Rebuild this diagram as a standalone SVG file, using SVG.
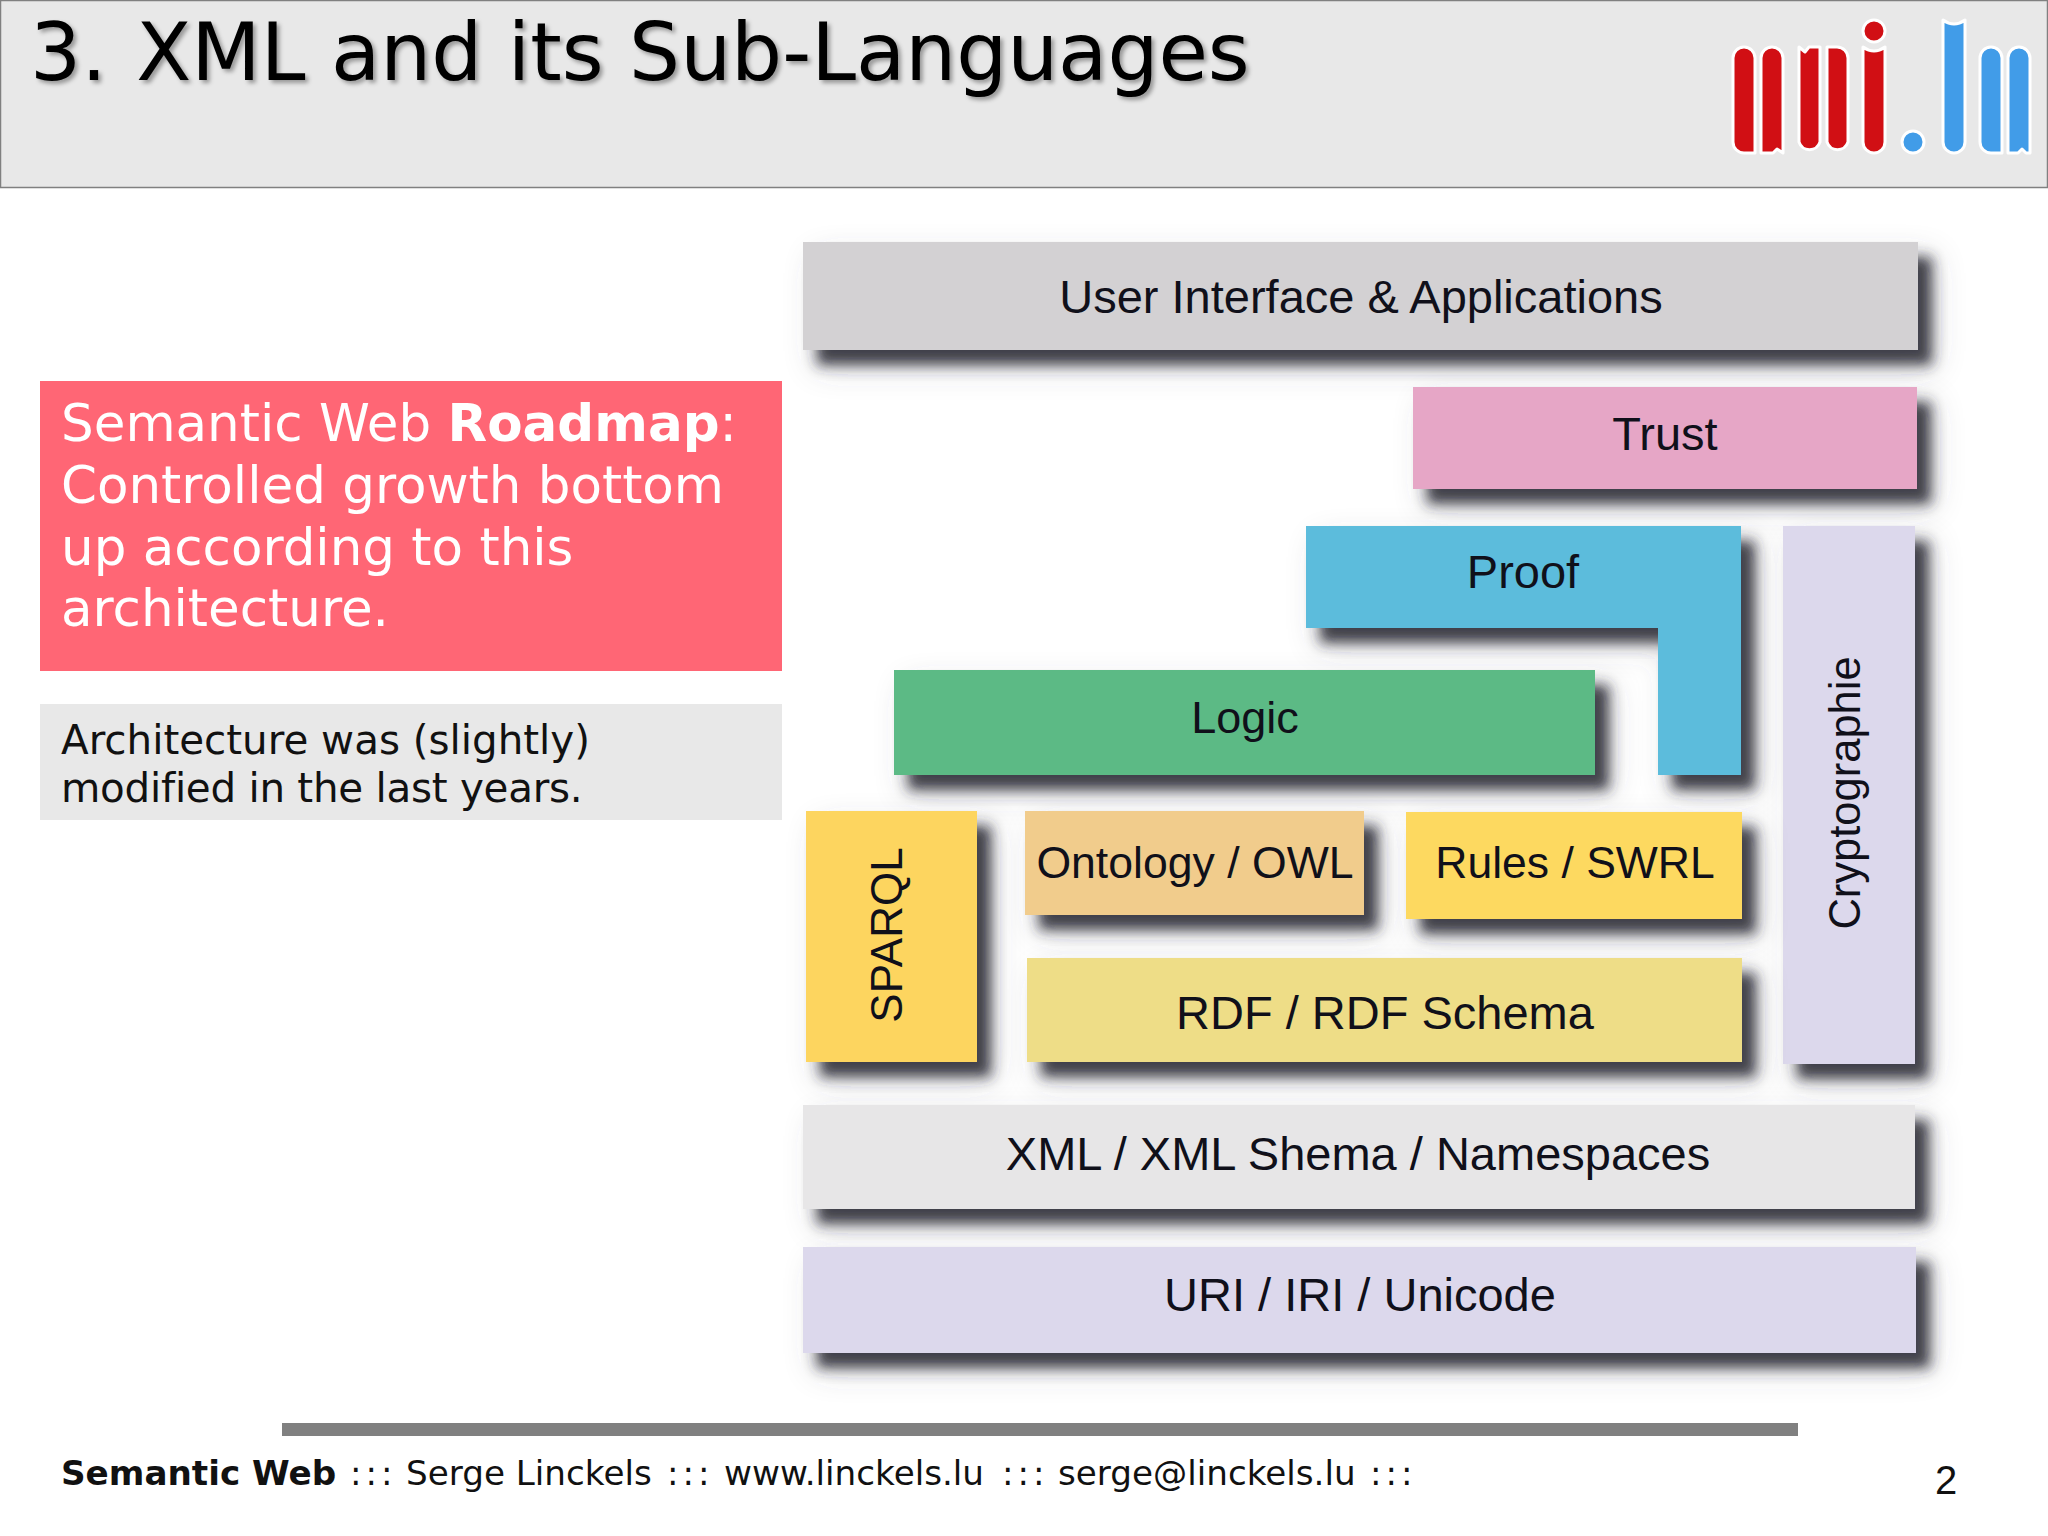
<svg xmlns="http://www.w3.org/2000/svg" width="2048" height="1536" viewBox="0 0 2048 1536">
<defs>
<filter id="ds" filterUnits="userSpaceOnUse" x="700" y="150" width="1348" height="1350">
<feGaussianBlur in="SourceAlpha" stdDeviation="6.5" result="a"/>
<feOffset in="a" dx="14" dy="15" result="b"/>
<feFlood flood-color="#2f2f38" flood-opacity="0.88"/><feComposite in2="b" operator="in" result="sh"/>
<feGaussianBlur in="SourceAlpha" stdDeviation="16" result="c"/>
<feOffset in="c" dx="14" dy="16" result="d"/>
<feFlood flood-color="#50505a" flood-opacity="0.25"/><feComposite in2="d" operator="in" result="halo"/>
<feMerge><feMergeNode in="halo"/><feMergeNode in="sh"/><feMergeNode in="SourceGraphic"/></feMerge>
</filter>
<filter id="ts" x="-2%" y="-10%" width="104%" height="130%"><feDropShadow dx="3" dy="3" stdDeviation="2" flood-color="#000" flood-opacity="0.35"/></filter>
</defs>
<style>
.l{font-family:"Liberation Sans",Arial,sans-serif;font-size:47px;fill:#10101a;text-anchor:middle}
.d{font-family:"DejaVu Sans",Verdana,sans-serif}
.b{filter:url(#ds)}
.r{fill:#d10f14;stroke:#fff;stroke-width:3;stroke-linejoin:round}
.c{fill:#419ce8;stroke:#fff;stroke-width:3;stroke-linejoin:round}
</style>
<rect width="2048" height="1536" fill="#fff"/>
<g id="header">
<rect x="0.5" y="0.5" width="2047" height="187" fill="#e8e8e8" stroke="#808080" stroke-width="1.5"/>
<text class="d" x="30" y="80" font-size="80.4" fill="#000" filter="url(#ts)">3.<tspan dx="4"> XML and its Sub-Languages</tspan></text>
</g>
<g id="logo">
<path class="r" d="M1733 58a11 11 0 0 1 22 0V153H1744a11 11 0 0 1-11-11Z"/>
<path class="r" d="M1761 58a11 11 0 0 1 22 0V153L1777 149L1773 153H1761Z"/>
<path class="r" d="M1799 47L1805 52L1809 47H1820V142a11 11 0 0 1-21 0Z"/>
<path class="r" d="M1827 47H1837a11 11 0 0 1 11 11V142a11 11 0 0 1-21 0Z"/>
<path class="r" d="M1863 47q11 8 22 0V142a11 11 0 0 1-22 0Z"/>
<circle class="r" cx="1874" cy="31" r="11"/>
<circle class="c" cx="1913" cy="142" r="11"/>
<path class="c" d="M1943 20q11 8 22 0V142a11 11 0 0 1-22 0Z"/>
<path class="c" d="M1980 58a11 11 0 0 1 22 0V153H1991a11 11 0 0 1-11-11Z"/>
<path class="c" d="M2008 58a11 11 0 0 1 22 0V153H2026L2022 149L2018 153H2008Z"/>
</g>
<g id="roadmap-note">
<rect x="40" y="381" width="742" height="290" fill="#ff6675"/>
<text class="d" font-size="51.5" fill="#fff"><tspan x="61" y="441">Semantic Web <tspan font-weight="bold">Roadmap</tspan>:</tspan><tspan x="61" y="503">Controlled growth bottom</tspan><tspan x="61" y="565">up according to this</tspan><tspan x="61" y="626">architecture.</tspan></text>
</g>
<g id="architecture-note">
<rect x="40" y="704" width="742" height="116" fill="#e8e8e8"/>
<text class="d" font-size="40.4" fill="#111"><tspan x="61" y="754">Architecture was (slightly)</tspan><tspan x="61" y="802" letter-spacing="-0.25">modified in the last years.</tspan></text>
</g>
<g id="user-interface"><rect class="b" x="803" y="242" width="1115" height="108" fill="#d3d1d3"/><text class="l" x="1361" y="313">User Interface &amp; Applications</text></g>
<g id="trust"><rect class="b" x="1413" y="387" width="504" height="102" fill="#e6a6c6"/><text class="l" x="1665" y="450">Trust</text></g>
<g id="proof"><path class="b" d="M1306 526H1741V775H1658V628H1306Z" fill="#5bbcdc"/><text class="l" x="1523" y="588">Proof</text></g>
<g id="logic"><rect class="b" x="894" y="670" width="701" height="105" fill="#5bba85"/><text class="l" style="font-size:45px" x="1245" y="733">Logic</text></g>
<g id="cryptographie"><rect class="b" x="1783" y="526" width="132" height="538" fill="#dcd8ec"/><text class="l" style="font-size:43.5px" transform="translate(1860 793) rotate(-90)">Cryptographie</text></g>
<g id="sparql"><rect class="b" x="806" y="811" width="171" height="251" fill="#fdd55f"/><text class="l" style="font-size:44px" transform="translate(902 935) rotate(-90)">SPARQL</text></g>
<g id="ontology"><rect class="b" x="1025" y="811" width="339" height="104" fill="#f1cc8c"/><text class="l" style="font-size:44.6px" x="1195" y="878">Ontology / OWL</text></g>
<g id="rules"><rect class="b" x="1406" y="812" width="336" height="107" fill="#fdd961"/><text class="l" style="font-size:44.5px" x="1575" y="878">Rules / SWRL</text></g>
<g id="rdf"><rect class="b" x="1027" y="958" width="715" height="104" fill="#eedd87"/><text class="l" x="1385" y="1029">RDF / RDF Schema</text></g>
<g id="xml"><rect class="b" x="803" y="1105" width="1112" height="104" fill="#e7e6e7"/><text class="l" x="1358" y="1170">XML / XML Shema / Namespaces</text></g>
<g id="uri"><rect class="b" x="803" y="1247" width="1113" height="106" fill="#dcd8ec"/><text class="l" x="1360" y="1311">URI / IRI / Unicode</text></g>
<g id="footer">
<rect x="282" y="1423" width="1516" height="13" fill="#808080"/>
<text class="d" y="1485" font-size="34.2" fill="#111"><tspan x="61" font-weight="bold">Semantic Web</tspan><tspan x="350" letter-spacing="4">:::</tspan><tspan x="406">Serge Linckels</tspan><tspan x="667" letter-spacing="4">:::</tspan><tspan x="724">www.linckels.lu</tspan><tspan x="1002" letter-spacing="4">:::</tspan><tspan x="1058">serge@linckels.lu</tspan><tspan x="1370" letter-spacing="4">:::</tspan></text>
<text x="1946" y="1494" font-family="Liberation Sans,sans-serif" font-size="40" fill="#111" text-anchor="middle">2</text>
</g>
<g id="connectors"/>
</svg>
